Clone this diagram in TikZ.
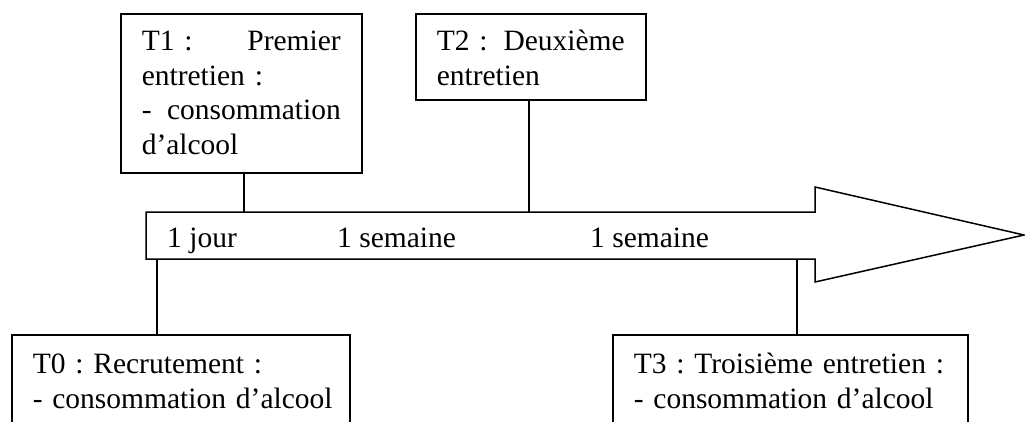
\documentclass[tikz,border=0pt]{standalone}
\usepackage{fontspec}
\setmainfont{Liberation Serif}
\frenchspacing
\newcommand\jfill{\hspace{0pt plus 1filll}}
\tikzset{
  linestyle/.style={line width=1.5pt, black},
  infobox/.style={draw, linestyle, fill=white, anchor=north west, inner xsep=21pt, inner ysep=0pt,
    align=left, font=\fontsize{29.5}{34.5}\selectfont\frenchspacing, text height=37pt},
  steplabel/.style={anchor=base west, inner sep=0pt, font=\fontsize{29.5}{34.5}\selectfont},
}
\begin{document}
\begin{tikzpicture}[x=1pt,y=-1pt]
\useasboundingbox (0,0) rectangle (1025,421);
\clip (0,0) rectangle (1025,421);
\fill[white] (0,0) rectangle (1025,421);
% timeline arrow
\draw[linestyle, line join=miter] (146,212) -- (815,212) -- (815,187) -- (1024,235) -- (815,282) -- (815,259) -- (146,259) -- cycle;
\coordinate (a1) at (244,212);
\coordinate (a2) at (529,212);
\coordinate (a0) at (157,259);
\coordinate (a3) at (797,259);
% labels on arrow
\node[steplabel] (l1) at (167,247) {1 jour};
\node[steplabel] (l2) at (337,247) {1 semaine};
\node[steplabel] (l3) at (590,247) {1 semaine};
% boxes
\node[infobox, text width=199pt, text depth=122pt] (T1) at (120,13)
  {T1 :\jfill Premier\\entretien :\\-\jfill consommation\\d’alcool};
\node[infobox, text width=188pt, text depth=49pt] (T2) at (415,13)
  {T2 :\jfill Deuxième\\entretien};
\node[infobox, text width=296pt, text height=39pt, text depth=120pt] (T0) at (11,334)
  {\mbox{T0 : Recrutement :}\\\mbox{- consommation d’alcool}};
\node[infobox, text width=313pt, text height=39pt, text depth=120pt] (T3) at (612,334)
  {\mbox{T3 : Troisième entretien :}\\\mbox{- consommation d’alcool}};
% connectors
\draw[linestyle] (a1 |- T1.south) -- (a1);
\draw[linestyle] (a2 |- T2.south) -- (a2);
\draw[linestyle] (a0) -- (a0 |- T0.north);
\draw[linestyle] (a3) -- (a3 |- T3.north);
\end{tikzpicture}
\end{document}
